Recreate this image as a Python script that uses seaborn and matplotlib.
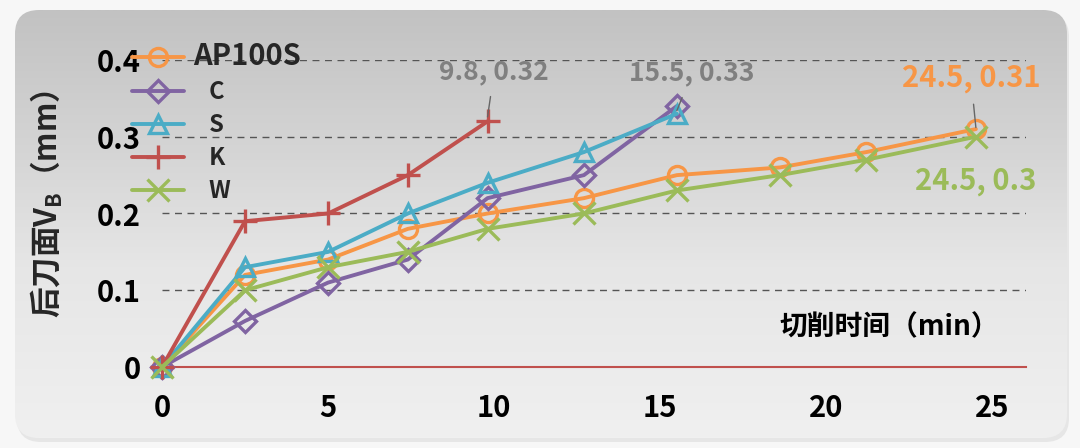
import numpy as np
import pandas as pd
import matplotlib
matplotlib.use("Agg")
import matplotlib.pyplot as plt
import seaborn as sns
from matplotlib.patches import FancyBboxPatch
from matplotlib.colors import LinearSegmentedColormap
from matplotlib.lines import Line2D
from matplotlib.ticker import MultipleLocator

# ---------------- data ----------------
series_names = ["AP100S", "C", "S", "K", "W"]
x_ap = [0, 2.5, 5, 7.4, 9.8, 12.7, 15.5, 18.6, 21.2, 24.5]
y_ap = [0, 0.12, 0.14, 0.18, 0.20, 0.22, 0.25, 0.26, 0.28, 0.31]
x_c = [0, 2.5, 5, 7.4, 9.8, 12.7, 15.5]
y_c = [0, 0.06, 0.11, 0.14, 0.22, 0.25, 0.34]
x_s = [0, 2.5, 5, 7.4, 9.8, 12.7, 15.5]
y_s = [0, 0.13, 0.15, 0.20, 0.24, 0.28, 0.33]
x_k = [0, 2.5, 5, 7.4, 9.8]
y_k = [0, 0.19, 0.20, 0.25, 0.32]
x_w = [0, 2.5, 5, 7.4, 9.8, 12.7, 15.5, 18.6, 21.2, 24.5]
y_w = [0, 0.10, 0.13, 0.15, 0.18, 0.20, 0.23, 0.25, 0.27, 0.30]
x_ticks = [0, 5, 10, 15, 20, 25]
y_ticks = [0, 0.1, 0.2, 0.3, 0.4]
y_tick_labels = ["0", "0.1", "0.2", "0.3", "0.4"]
annotations = [  # text, point x, point y, text x, text y, colour key, leader
    ("9.8, 0.32", 9.8, 0.326, 10.0, 0.385, "gray", True),
    ("15.5, 0.33", 15.5, 0.334, 15.95, 0.383, "gray", True),
    ("24.5, 0.31", 24.5, 0.312, 24.35, 0.377, "orange", True),
    ("24.5, 0.3", 24.5, 0.30, 24.5, 0.242, "green", False),
]

colors = {"AP100S": "#F79646", "C": "#8064A2", "S": "#4BACC6",
          "K": "#C0504D", "W": "#9BBB59"}
markers = {"AP100S": "o", "C": "D", "S": "^", "K": "+", "W": "x"}
msizes = {"AP100S": 13, "C": 11, "S": 13, "K": 17, "W": 16}
text_colors = {"gray": "#808080", "orange": "#F79646", "green": "#9BBB59"}

frames = []
for name, xs, ys in zip(series_names, [x_ap, x_c, x_s, x_k, x_w],
                        [y_ap, y_c, y_s, y_k, y_w]):
    frames.append(pd.DataFrame({"t": xs, "vb": ys, "series": name}))
df = pd.concat(frames, ignore_index=True)

# ---------------- style ----------------
sns.set_style("white")
plt.rcParams["font.family"] = ["Noto Sans CJK SC", "DejaVu Sans"]
plt.rcParams["font.weight"] = "bold"
plt.rcParams["mathtext.fontset"] = "custom"
plt.rcParams["mathtext.rm"] = "Noto Sans CJK SC:bold"
plt.rcParams["mathtext.bf"] = "Noto Sans CJK SC:bold"
FW = "bold"

W, H = 1080, 448
fig = plt.figure(figsize=(W / 100, H / 100), dpi=100)
fig.patch.set_facecolor("#f7f7f7")

# background card with gradient
bg = fig.add_axes([0, 0, 1, 1], zorder=-10)
shadow = FancyBboxPatch((17, 13), 1052, 429, boxstyle="round,pad=0,rounding_size=24",
                        fc="#e6e6e6", ec="none", zorder=-2)
bg.add_patch(shadow)
card = FancyBboxPatch((15, 10), 1052, 428, boxstyle="round,pad=0,rounding_size=24",
                      fc="none", ec="none", zorder=-1)
bg.add_patch(card)
grad = np.linspace(0, 1, 256).reshape(-1, 1)
cmap = LinearSegmentedColormap.from_list(
    "g", [(0, "#c2c2c2"), (0.35, "#d6d6d6"), (0.6, "#e6e6e6"), (1, "#f0f0f0")])
im = bg.imshow(grad, extent=[15, 1067, 438, 10], cmap=cmap, vmin=0, vmax=1,
               aspect="auto", interpolation="bilinear", zorder=0)
im.set_clip_path(card)
bg.set_xlim(0, W)
bg.set_ylim(H, 0)
bg.axis("off")

# main axes
x0, x1 = 162 / W, 1025.7 / W
yb, yt = 1 - 367 / H, 1 - 60 / H
ax = fig.add_axes([x0, yb, x1 - x0, yt - yb])
ax.set_facecolor("none")

for name in series_names:
    sub = df[df["series"] == name]
    c = colors[name]
    sns.lineplot(data=sub, x="t", y="vb", ax=ax, color=c, linewidth=2.8,
                 marker=markers[name], markersize=msizes[name],
                 markerfacecolor="none", markeredgecolor=c, markeredgewidth=2.4,
                 clip_on=False, legend=False, zorder=5)

ax.set_xlim(0, 26)
ax.set_ylim(0, 0.4)
ax.set_xticks(x_ticks)
ax.xaxis.set_minor_locator(MultipleLocator(1))
ax.set_yticks(y_ticks)
ax.set_yticklabels(y_tick_labels)
for s in ["top", "right", "left"]:
    ax.spines[s].set_visible(False)
ax.spines["bottom"].set_color("#C0504D")
ax.spines["bottom"].set_linewidth(1.5)
ax.tick_params(axis="x", which="major", direction="in", length=8, width=1.3,
               color="#C0504D", pad=19, labelsize=21)
ax.tick_params(axis="x", which="minor", direction="in", length=4.5, width=1.3,
               color="#C0504D")
ax.tick_params(axis="y", length=0, pad=15, labelsize=21)
for lab in ax.get_xticklabels() + ax.get_yticklabels():
    lab.set_fontweight(FW)
    lab.set_color("black")
ax.grid(False)
for yv in y_ticks[1:]:
    ax.axhline(yv, color="#555555", lw=1.0, ls=(0, (5, 4)), zorder=1)

ax.set_xlabel("")
ax.set_ylabel("后刀面V$_{\\mathbf{B}}$（mm）", fontsize=22, fontweight=FW)
ax.yaxis.set_label_coords(-0.112, 0.53)
ax.text(25.2, 0.052, "切削时间（min）", ha="right", va="center", fontsize=20,
        fontweight=FW, color="black")

# annotations
for txt, px, py, tx, ty, ck, lead in annotations:
    col = text_colors[ck]
    fs = 19 if ck == "gray" else 21
    if lead:
        ax.annotate(txt, xy=(px, py), xytext=(tx, ty), ha="center", va="center",
                    fontsize=fs, fontweight=FW, color=col,
                    arrowprops=dict(arrowstyle="-", color="#666666", lw=1.0,
                                    shrinkA=6, shrinkB=0),
                    annotation_clip=False, zorder=6)
    else:
        ax.text(tx, ty, txt, ha="center", va="center", fontsize=fs,
                fontweight=FW, color=col, zorder=6)

# legend
handles = [Line2D([], [], color=colors[n], lw=2.8, marker=markers[n],
                  markersize=msizes[n], markerfacecolor="none",
                  markeredgecolor=colors[n], markeredgewidth=2.4)
           for n in series_names]
labels = ["AP100S", "   C", "   S", "   K", "   W"]
leg = ax.legend(handles, labels, loc="upper left",
                bbox_to_anchor=(132 / W, 1 - 41 / H), bbox_transform=fig.transFigure,
                frameon=False, fontsize=17, handlelength=2.2, handletextpad=0.4,
                labelspacing=0.38, borderpad=0, borderaxespad=0)
for i, t in enumerate(leg.get_texts()):
    t.set_fontweight(FW)
    if i == 0:
        t.set_fontsize(21)

fig.savefig("out.png", dpi=100, facecolor=fig.get_facecolor())
